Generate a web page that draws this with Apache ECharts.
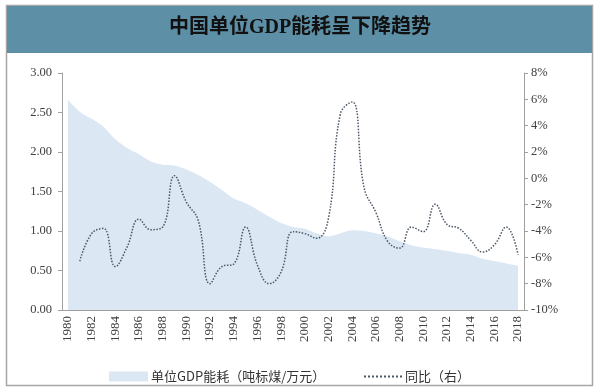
<!DOCTYPE html>
<html>
<head>
<meta charset="utf-8">
<script src="https://cdn.jsdelivr.net/npm/echarts@6/dist/echarts.min.js"></script>
<style>
html,body{margin:0;padding:0;background:#fff;}
#chart{width:600px;height:390px;}
</style>
</head>
<body>
<div id="chart"></div>
<script>
var years = ['1980','1981','1982','1983','1984','1985','1986','1987','1988','1989',
  '1990','1991','1992','1993','1994','1995','1996','1997','1998','1999',
  '2000','2001','2002','2003','2004','2005','2006','2007','2008','2009',
  '2010','2011','2012','2013','2014','2015','2016','2017','2018'];
var energyUse = [2.66,2.51,2.42,2.32,2.16,2.05,1.97,1.88,1.84,1.83,
  1.78,1.71,1.62,1.52,1.41,1.35,1.27,1.18,1.10,1.05,
  1.03,0.97,0.93,0.97,1.01,1.00,0.97,0.93,0.87,0.82,
  0.79,0.77,0.75,0.72,0.70,0.65,0.62,0.59,0.56];
var yoy = [null,-6.3,-4.2,-3.8,-6.7,-5.2,-3.1,-3.9,-3.7,0.2,
  -1.8,-3.2,-8.0,-6.7,-6.5,-3.7,-6.6,-8.0,-7.1,-4.05,
  -4.2,-4.55,-3.0,4.9,5.8,-0.7,-2.6,-4.8,-5.3,-3.7,
  -4.05,-1.97,-3.5,-3.8,-4.7,-5.6,-5.05,-3.7,-5.8];
var leftTicks = {min:0, max:3, interval:0.5};
var rightTicks = {min:-10, max:8, interval:2};
var titleText = '中国单位GDP能耗呈下降趋势';
var seriesNames = ['单位GDP能耗（吨标煤/万元）','同比（右）'];

var serif = '"Liberation Serif","Noto Sans CJK SC",serif';
var chart = echarts.init(document.getElementById('chart'));
chart.setOption({
  animation:false,
  graphic:[
    {type:'rect', shape:{x:6.5,y:5.5,width:586,height:380}, style:{fill:'#fff',stroke:'#a6a6a6',lineWidth:1.5}, z:-10},
    {type:'rect', shape:{x:7,y:6,width:585,height:47}, style:{fill:'#5d90a7'}, z:-9},
    {type:'text', left:'center', top:18, style:{text:titleText, fill:'#111', font:'bold 20px "Liberation Serif","Noto Sans CJK SC"'}}
  ],
  grid:{left:62, right:76, top:73, bottom:80},
  legend:[
    {data:[{name:seriesNames[0], icon:'rect'}], left:104, top:365, itemWidth:39, itemHeight:10, itemGap:4,
      textStyle:{fontFamily:'"Noto Sans CJK SC"', fontSize:13, color:'#333', padding:[0,0,0,-2]}},
    {data:[{name:seriesNames[1]}], left:358, top:365, itemWidth:38, itemHeight:10,
      itemStyle:{color:'transparent', borderColor:'transparent', borderWidth:0},
      textStyle:{fontFamily:'"Noto Sans CJK SC"', fontSize:13, color:'#333', padding:[0,0,0,-2]}}
  ],
  xAxis:{type:'category', data:years, boundaryGap:true,
    axisLine:{lineStyle:{color:'#a0a0a0'}},
    axisTick:{interval:1, length:4, lineStyle:{color:'#a0a0a0'}},
    axisLabel:{interval:1, rotate:90, fontFamily:serif, fontSize:13, color:'#404040', margin:6}},
  yAxis:[
    {type:'value', min:leftTicks.min, max:leftTicks.max, interval:leftTicks.interval, splitLine:{show:false},
      axisLine:{show:true, lineStyle:{color:'#a0a0a0'}}, axisTick:{show:true, length:4, lineStyle:{color:'#a0a0a0'}},
      axisLabel:{fontFamily:serif, fontSize:12.5, color:'#404040', margin:10, formatter:function(v){return v.toFixed(2);}}},
    {type:'value', position:'right', min:rightTicks.min, max:rightTicks.max, interval:rightTicks.interval, splitLine:{show:false},
      axisLine:{show:true, lineStyle:{color:'#a0a0a0'}}, axisTick:{show:true, length:4, lineStyle:{color:'#a0a0a0'}},
      axisLabel:{fontFamily:serif, fontSize:12.5, color:'#404040', margin:7, formatter:'{value}%'}}
  ],
  series:[
    {name:seriesNames[0], type:'line', yAxisIndex:0, data:energyUse, smooth:0.3, symbol:'none',
      lineStyle:{width:0, color:'#dce7f4'}, itemStyle:{color:'#dce7f4'}, areaStyle:{color:'#dce7f4', opacity:1}},
    {name:seriesNames[1], type:'line', yAxisIndex:1, data:yoy, smooth:0.45, symbol:'none',
      lineStyle:{width:1.5, color:'#4b5767', type:'dotted'}, itemStyle:{color:'#4b5767'}, z:3}
  ]
});
</script>
</body>
</html>
